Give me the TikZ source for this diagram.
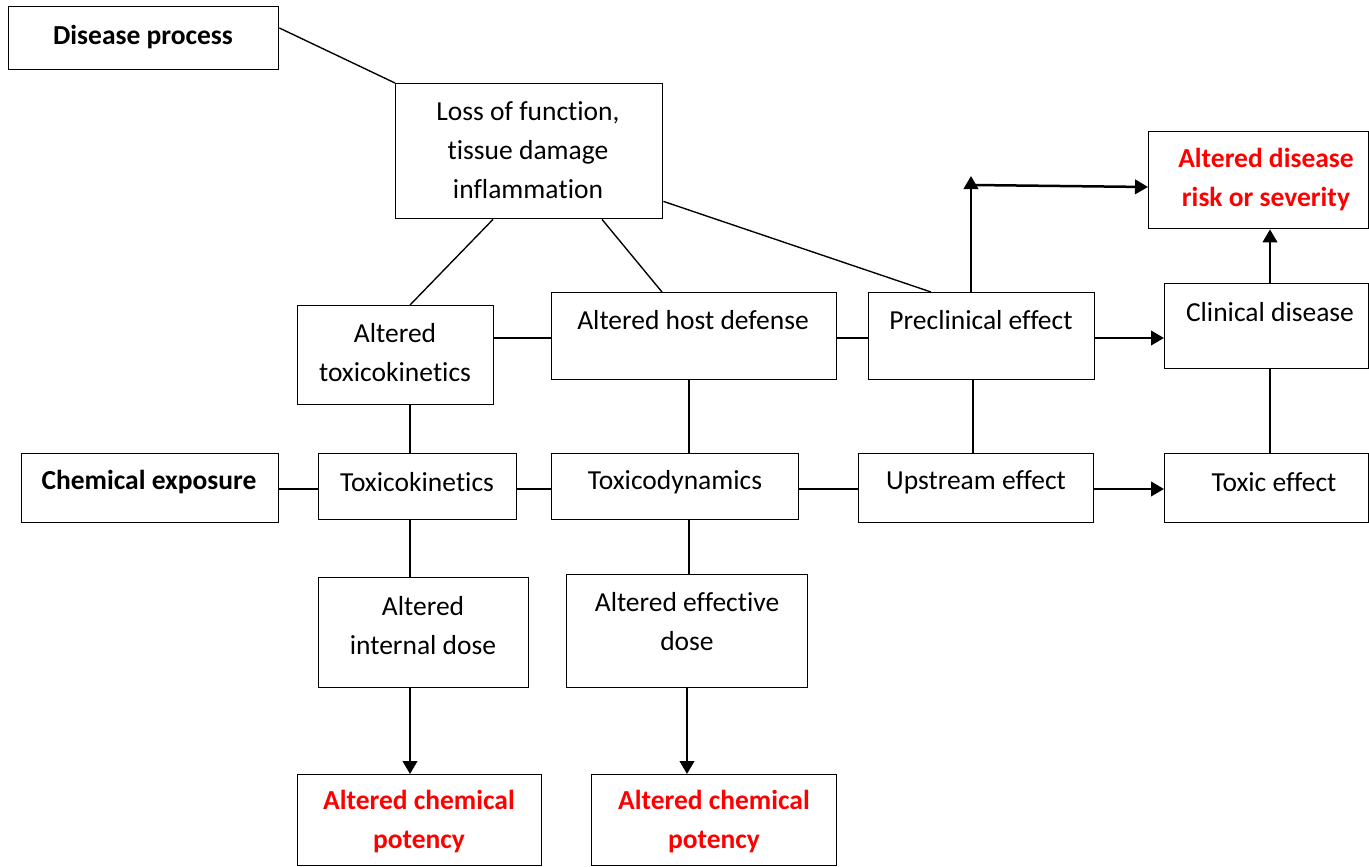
\documentclass[tikz,border=0pt]{standalone}
\usepackage{fontspec}
\setmainfont{Carlito}[Ligatures={NoCommon,NoContextual},Contextuals=NoAlternate]
\usetikzlibrary{arrows.meta,calc}
\newcommand\brk{\kern0pt }
\begin{document}
\begin{tikzpicture}[x=0.4pt,y=-0.4pt,
  box/.style={draw, line width=0.55pt, anchor=north west, inner sep=0pt},
  txt/.style={align=center, font=\fontsize{11}{15.6}\selectfont, inner sep=0pt},
  btxt/.style={align=center, font=\fontsize{11}{15.6}\selectfont\bfseries, inner sep=0pt},
  hl/.style={btxt, text=red},
  ln/.style={line width=0.55pt},
  arr/.style={line width=1pt, -{Triangle[length=5.2pt, width=5.8pt]}}
]
\useasboundingbox (0,0) rectangle (1369,867);
\newcommand\bx[5]{\node[box, minimum width=#4*0.4pt, minimum height=#5*0.4pt] (#1) at (#2,#3) {};}
% boxes
\bx{dp}{8}{6}{270}{63}
\bx{loss}{395}{83}{267}{135}
\bx{adr}{1148}{131}{220}{97}
\bx{atk}{297}{305}{196}{99}
\bx{ahd}{551}{292}{285}{87}
\bx{pre}{868}{292}{226}{87}
\bx{cd}{1164}{283}{204}{85}
\bx{ce}{21}{453}{257}{69}
\bx{tk}{318}{453}{198}{66}
\bx{td}{551}{453}{247}{66}
\bx{up}{858}{453}{235}{69}
\bx{te}{1164}{453}{204}{69}
\bx{aid}{318}{577}{210}{110}
\bx{aed}{566}{574}{241}{113}
\bx{acpa}{297}{774}{244}{91}
\bx{acpb}{591}{774}{245}{91}
% texts
\node[btxt] (tdp) at (143,37) {Disease process};
\node[txt] (tloss) at (528,150) {Loss of func\brk tion,\\tissue damage\\inf\brk lamma\brk tion};
\node[hl] (tadr) at (1266,180) {Altered disease\\risk or severity};
\node[txt] (tatk) at (395,353) {Altered\\toxicokine\brk tics};
\node[txt] (tahd) at (693,320) {Altered host defense};
\node[txt] (tpre) at (981,320) {Preclinical effect};
\node[txt] (tcd) at (1270,312) {Clinical disease};
\node[btxt] (tce) at (149,482) {Chemical exposure};
\node[txt] (ttk) at (417,482) {Toxicokine\brk tics};
\node[txt] (ttd) at (675,482) {Toxicodynamics};
\node[txt] (tup) at (976,482) {Upstream effect};
\node[txt] (tte) at (1274,482) {Toxic effect};
\node[txt] (taid) at (423,626) {Altered\\internal dose};
\node[txt] (taed) at (687,622) {Altered effective\\dose};
\node[hl] (tacpa) at (419,822) {Altered chemical\\potency};
\node[hl] (tacpb) at (714,822) {Altered chemical\\potency};
% connectors
\draw[ln] ($(dp.north east)+(0,22)$) -- (loss.north west);
\draw[ln] ($(loss.south west)+(98,0)$) -- ($(atk.north west)+(113,0)$);
\draw[ln] ($(loss.south west)+(207,0)$) -- ($(ahd.north west)+(111,0)$);
\draw[ln] ($(loss.south east)+(0,-18)$) -- ($(pre.north west)+(63,0)$);
\draw[ln] ($(atk.north east)+(0,33)$) -- ($(ahd.north west)+(0,46)$);
\draw[ln] ($(ahd.north east)+(0,46)$) -- ($(pre.north west)+(0,46)$);
\draw[arr] ($(pre.north east)+(0,46)$) -- ($(cd.north west)+(0,55)$);
\coordinate (corner) at ($(pre.north west)+(103,-116)$);
\draw[arr] ($(pre.north west)+(103,0)$) -- (corner);
\draw[arr] ($(corner)+(2,9)$) -- ($(adr.north west)+(0,56)$);
\draw[arr] ($(cd.north west)+(106,0)$) -- ($(adr.south west)+(122,0)$);
\draw[ln] ($(te.north west)+(106,0)$) -- ($(cd.south west)+(106,0)$);
\draw[ln] ($(ce.north east)+(0,36)$) -- ($(tk.north west)+(0,36)$);
\draw[ln] ($(tk.north east)+(0,36)$) -- ($(td.north west)+(0,36)$);
\draw[ln] ($(td.north east)+(0,36)$) -- ($(up.north west)+(0,36)$);
\draw[arr] ($(up.north east)+(0,36)$) -- ($(te.north west)+(0,36)$);
\draw[ln] ($(up.north west)+(115,0)$) -- ($(pre.south west)+(105,0)$);
\draw[ln] ($(td.north west)+(138,0)$) -- ($(ahd.south west)+(138,0)$);
\draw[ln] ($(tk.north west)+(92,0)$) -- ($(atk.south west)+(113,0)$);
\draw[ln] ($(tk.south west)+(92,0)$) -- ($(aid.north west)+(92,0)$);
\draw[arr] ($(aid.south west)+(92,0)$) -- ($(acpa.north west)+(113,0)$);
\draw[ln] ($(td.south west)+(138,0)$) -- ($(aed.north west)+(123,0)$);
\draw[arr] ($(aed.south west)+(121,0)$) -- ($(acpb.north west)+(96,0)$);
\end{tikzpicture}
\end{document}
